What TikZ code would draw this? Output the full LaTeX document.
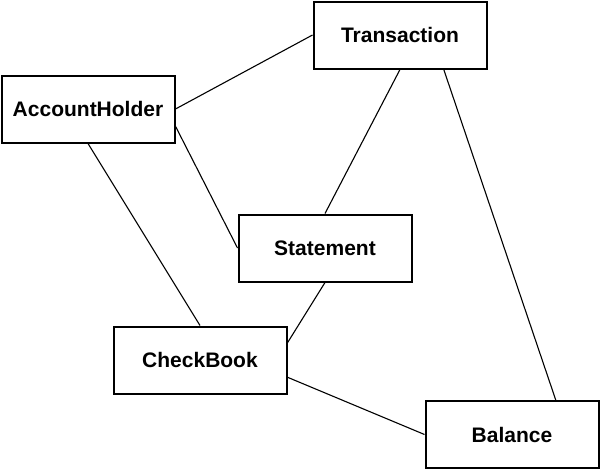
\documentclass[tikz,border=0pt]{standalone}
\usepackage{fontspec}
\setmainfont{Liberation Sans}
\usetikzlibrary{calc}
\tikzset{
  classbox/.style={draw, line width=2pt, minimum width=173pt, minimum height=67pt,
    inner sep=0pt, font=\fontsize{21}{24}\selectfont\bfseries, fill=white},
  classlink/.style={line width=1.1pt},
}

\begin{document}
\begin{tikzpicture}[x=1pt, y=-1pt]
  \useasboundingbox (0,0) rectangle (600,469);
  \node[classbox] (trans) at (400,35) {Transaction};
  \node[classbox] (holder) at (88,109) {AccountHolder};
  \node[classbox] (stmt) at (325,248) {Statement};
  \node[classbox] (book) at (200,360) {CheckBook};
  \node[classbox] (balance) at (512,434.5) {Balance};
  % links between the classes
  \draw[classlink] (holder.east) -- (trans.west);
  \draw[classlink] ($(holder.north east)!0.75!(holder.south east)$) -- (stmt.west);
  \draw[classlink] (holder.south) -- (book.north);
  \draw[classlink] (trans.south) -- (stmt.north);
  \draw[classlink] ($(trans.south west)!0.75!(trans.south east)$) -- ($(balance.north west)!0.75!(balance.north east)$);
  \draw[classlink] (stmt.south) -- ($(book.north east)!0.25!(book.south east)$);
  \draw[classlink] ($(book.north east)!0.75!(book.south east)$) -- (balance.west);
\end{tikzpicture}
\end{document}
